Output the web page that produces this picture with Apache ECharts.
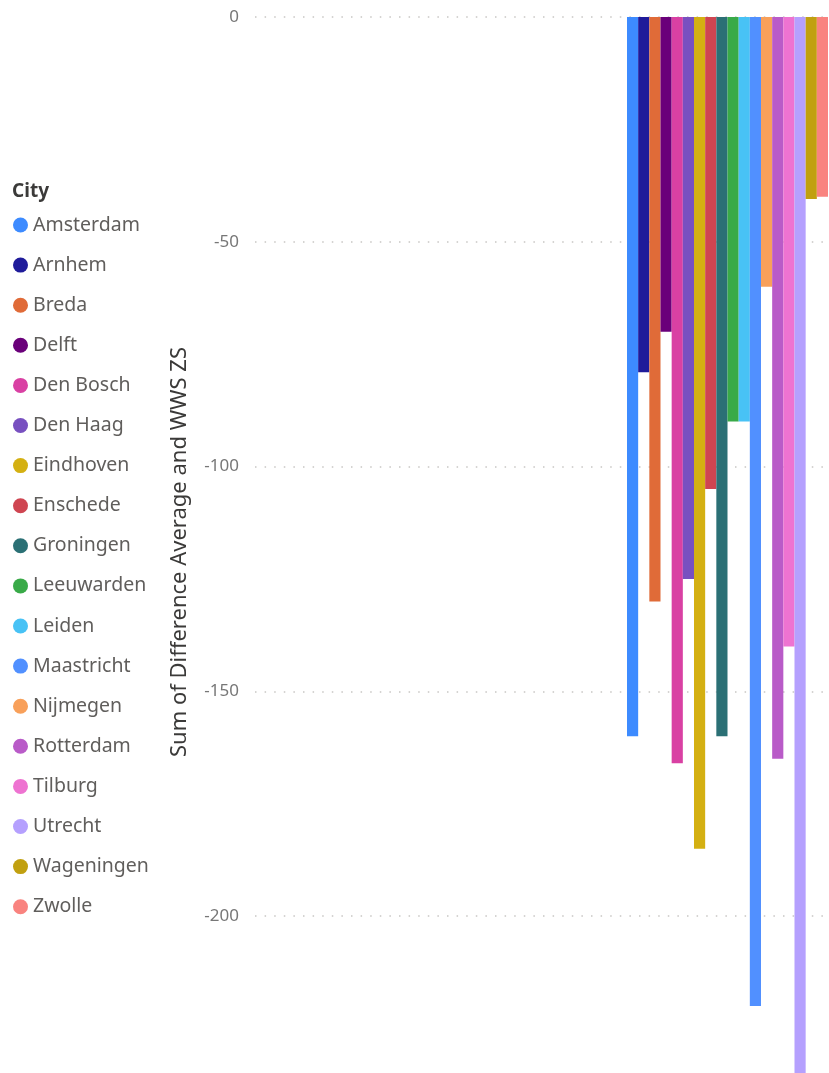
<!DOCTYPE html>
<html>
<head>
<meta charset="utf-8">
<script src="https://cdn.jsdelivr.net/npm/echarts@6/dist/echarts.min.js"></script>
<style>
	html, body { margin: 0; padding: 0; background: #fff; }
	#main { width: 829px; height: 1073px; }
</style>
</head>
<body>
<div id="main"></div>
<script>
var cities = ['Amsterdam','Arnhem','Breda','Delft','Den Bosch','Den Haag','Eindhoven','Enschede','Groningen','Leeuwarden','Leiden','Maastricht','Nijmegen','Rotterdam','Tilburg','Utrecht','Wageningen','Zwolle'];
var values = [-160, -79, -130, -70, -166, -125, -185, -105, -160, -90, -90, -220, -60, -165, -140, -236, -40.5, -40];
var colors = ['#3D8BFF','#1F1B9A','#E06B38','#6A007A','#D940A3','#7850C0','#D4B012','#CF4551','#2B7075','#39AA48','#48C2F5','#5190FF','#F8A05A','#B95BC8','#EE73D1','#B5A0FE','#C1A010','#F9837F'];
var yMin = -238, yMax = 0;
var font = 'Noto Sans';

var chart = echarts.init(document.getElementById('main'));

var series = [];
for (var i = 0; i < cities.length; i++) {
	series.push({
		name: cities[i],
		type: 'bar',
		xAxisIndex: 1,
		yAxisIndex: 1,
		data: [values[i]],
		barGap: '0%',
		barCategoryGap: '0%',
		itemStyle: { color: colors[i] },
		emphasis: { disabled: true }
	});
}

var option = {
	animation: false,
	color: colors,
	title: {
		text: 'City',
		left: 7,
		top: 177,
		textStyle: { fontFamily: font, fontSize: 19, fontWeight: 'bold', color: '#3b3a39' }
	},
	legend: {
		orient: 'vertical',
		left: 8,
		top: 210,
		icon: 'circle',
		itemWidth: 15,
		itemHeight: 15,
		itemGap: 20.1,
		data: cities,
		textStyle: { fontFamily: font, fontSize: 19.5, lineHeight: 20, color: '#605E5C' }
	},
	grid: [
		{ left: 255, right: 0, top: 17, height: 1070, outerBoundsMode: 'none' },
		{ left: 627, width: 201, top: 17, height: 1070, outerBoundsMode: 'none' }
	],
	xAxis: [
		{ type: 'category', gridIndex: 0, data: [''], show: false },
		{ type: 'category', gridIndex: 1, data: ['City'], show: false }
	],
	yAxis: [
		{
			type: 'value',
			gridIndex: 0,
			min: yMin,
			max: yMax,
			name: 'Sum of Difference Average and WWS ZS',
			nameLocation: 'middle',
			nameGap: 64,
			nameTextStyle: { fontFamily: font, fontSize: 22, color: '#3b3a39' },
			axisLine: { show: false },
			axisTick: { show: false },
			axisLabel: { showMinLabel: false, margin: 16, fontFamily: font, fontSize: 17, color: '#777' },
			splitLine: { lineStyle: { color: '#c8c6c4', width: 1.5, type: [1.5, 8.1] } }
		},
		{
			type: 'value',
			gridIndex: 1,
			min: yMin,
			max: yMax,
			show: false,
			splitLine: { show: false }
		}
	],
	series: series
};
chart.setOption(option);
</script>
</body>
</html>
